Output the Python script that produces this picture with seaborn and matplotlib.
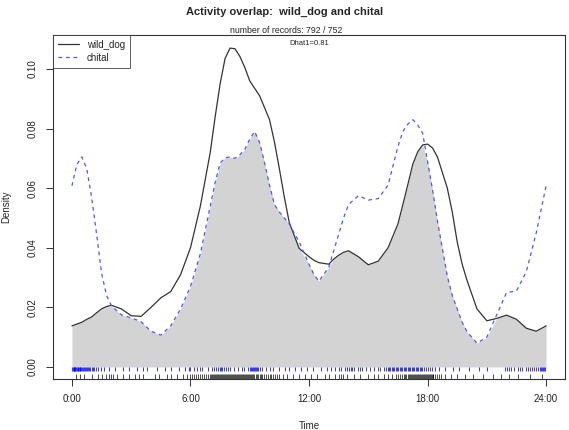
import numpy as np
import pandas as pd
import matplotlib
matplotlib.use("Agg")
import matplotlib.pyplot as plt
import seaborn as sns

# === DATA ===
hours = [0.0, 0.25, 0.5, 0.75, 1.0, 1.25, 1.5, 1.75, 2.0, 2.5, 3.0, 3.5, 4.0, 4.5,
         5.0, 5.5, 6.0, 6.5, 7.0, 7.25, 7.5, 7.75, 8.0, 8.25, 8.5, 8.75, 9.0, 9.25,
         9.5, 9.75, 10.0, 10.25, 10.5, 10.75, 11.0, 11.5, 12.0, 12.25, 12.5, 13.0,
         13.25, 13.5, 13.75, 14.0, 14.5, 15.0, 15.5, 16.0, 16.5, 16.75, 17.0, 17.25,
         17.5, 17.75, 18.0, 18.25, 18.5, 19.0, 19.25, 19.5, 19.75, 20.0, 20.5, 21.0,
         21.5, 22.0, 22.5, 23.0, 23.5, 24.0]

wild_dog = [0.0138, 0.0144, 0.0150, 0.0160, 0.0168, 0.0182, 0.0195, 0.0203, 0.0207,
            0.0195, 0.0172, 0.0170, 0.0200, 0.0232, 0.0253, 0.0310, 0.0400, 0.0540,
            0.0720, 0.0840, 0.0950, 0.1035, 0.1070, 0.1068, 0.1042, 0.1005, 0.0960,
            0.0935, 0.0910, 0.0870, 0.0830, 0.0755, 0.0665, 0.0570, 0.0485, 0.0398,
            0.0370, 0.0358, 0.0350, 0.0345, 0.0362, 0.0375, 0.0385, 0.0390, 0.0370,
            0.0343, 0.0355, 0.0400, 0.0480, 0.0545, 0.0612, 0.0680, 0.0722, 0.0745,
            0.0748, 0.0735, 0.0705, 0.0600, 0.0520, 0.0420, 0.0345, 0.0290, 0.0195,
            0.0155, 0.0163, 0.0174, 0.0160, 0.0130, 0.0120, 0.0138]

chital = [0.0608, 0.0680, 0.0705, 0.0665, 0.0568, 0.0445, 0.0315, 0.0240, 0.0205,
          0.0175, 0.0165, 0.0152, 0.0120, 0.0107, 0.0138, 0.0195, 0.0270, 0.0380,
          0.0540, 0.0620, 0.0684, 0.0702, 0.0705, 0.0700, 0.0712, 0.0730, 0.0765,
          0.0790, 0.0753, 0.0685, 0.0610, 0.0545, 0.0520, 0.0500, 0.0480, 0.0420,
          0.0345, 0.0310, 0.0288, 0.0335, 0.0390, 0.0445, 0.0500, 0.0545, 0.0575,
          0.0560, 0.0565, 0.0610, 0.0740, 0.0790, 0.0815, 0.0830, 0.0812, 0.0785,
          0.0690, 0.0595, 0.0490, 0.0305, 0.0240, 0.0195, 0.0150, 0.0118, 0.0080,
          0.0100, 0.0175, 0.0250, 0.0255, 0.0320, 0.0450, 0.0608]

# event times for the rugs (approximate)
chital_times = [0.02, 0.05, 0.08, 0.1, 0.12, 0.15, 0.18, 0.2, 0.25, 0.3, 0.33, 0.35,
                0.4, 0.42, 0.45, 0.5, 0.55, 0.6, 0.65, 0.7, 0.75, 0.8, 0.85, 0.9, 1.0,
                1.05, 1.1, 1.2, 1.3, 1.45, 1.6, 1.9, 2.2, 2.6, 2.9, 3.3, 3.6, 3.8, 4.3,
                4.7, 5.0, 5.4, 5.7, 5.9, 6.0, 6.2, 6.35, 6.5, 6.6, 6.9, 7.1, 7.2, 7.3,
                7.4, 7.5, 7.55, 7.6, 7.7, 7.8, 7.9, 8.0, 8.2, 8.4, 8.6, 8.7, 8.9, 9.0,
                9.05, 9.1, 9.15, 9.2, 9.25, 9.3, 9.35, 9.4, 9.5, 9.6, 9.8, 10.0, 10.2,
                10.5, 10.8, 11.0, 11.3, 11.6, 11.9, 12.2, 12.6, 12.9, 13.1, 13.3, 13.5,
                13.6, 13.8, 13.9, 14.0, 14.1, 14.2, 14.3, 14.5, 14.6, 14.7, 14.9, 15.1,
                15.3, 15.5, 15.6, 15.8, 15.9, 16.0, 16.05, 16.1, 16.2, 16.25, 16.3,
                16.4, 16.45, 16.5, 16.6, 16.65, 16.7, 16.8, 16.85, 16.9, 17.0, 17.05,
                17.1, 17.2, 17.25, 17.3, 17.4, 17.45, 17.5, 17.6, 17.65, 17.7, 17.8,
                17.9, 18.0, 18.1, 18.2, 18.4, 18.6, 18.9, 19.3, 19.6, 20.1, 20.6, 21.0,
                21.9, 22.0, 22.1, 22.2, 22.4, 22.6, 22.7, 22.8, 23.0, 23.1, 23.2, 23.3,
                23.4, 23.5, 23.6, 23.7, 23.75, 23.8, 23.85, 23.9, 23.95]

wild_dog_times = [0.2, 0.4, 0.6, 1.0, 1.3, 1.5, 1.7, 1.9, 2.0, 2.1, 2.3, 2.6, 2.9,
                  3.2, 3.4, 3.6, 4.2, 4.4, 4.8, 5.0, 5.3, 5.6, 5.8, 6.0, 6.1, 6.2, 6.3,
                  6.4, 6.5, 6.6, 6.7, 6.8, 6.9, 7.0, 7.05, 7.1, 7.15, 7.2, 7.25, 7.3,
                  7.35, 7.4, 7.45, 7.5, 7.55, 7.6, 7.65, 7.7, 7.75, 7.8, 7.85, 7.9,
                  7.95, 8.0, 8.05, 8.1, 8.15, 8.2, 8.25, 8.3, 8.35, 8.4, 8.45, 8.5,
                  8.55, 8.6, 8.65, 8.7, 8.75, 8.8, 8.85, 8.9, 8.95, 9.0, 9.05, 9.1,
                  9.15, 9.2, 9.3, 9.35, 9.4, 9.5, 9.55, 9.6, 9.7, 9.8, 9.9, 10.0, 10.1,
                  10.2, 10.3, 10.4, 10.5, 10.7, 10.9, 11.2, 11.5, 11.8, 12.1, 12.4,
                  12.8, 13.0, 13.3, 13.5, 13.6, 13.7, 13.9, 14.3, 14.6, 15.0, 15.3,
                  15.5, 15.8, 16.0, 16.2, 16.4, 16.5, 16.6, 16.7, 16.8, 16.85, 16.9,
                  17.0, 17.05, 17.1, 17.15, 17.2, 17.25, 17.3, 17.35, 17.4, 17.45,
                  17.5, 17.55, 17.6, 17.65, 17.7, 17.75, 17.8, 17.85, 17.9, 17.95,
                  18.0, 18.05, 18.1, 18.15, 18.2, 18.25, 18.3, 18.4, 18.5, 18.6, 18.7,
                  18.9, 19.2, 19.5, 19.9, 20.3, 20.8, 21.3, 21.7, 22.1, 22.6, 23.2,
                  23.8]

xticks = [0, 6, 12, 18, 24]
xtick_labels = ["0:00", "6:00", "12:00", "18:00", "24:00"]
yticks = [0.00, 0.02, 0.04, 0.06, 0.08, 0.10]

# === STYLE ===
sns.set_style("ticks")
plt.rcParams["font.family"] = ["Liberation Sans", "DejaVu Sans"]

df = pd.DataFrame({"Time": hours, "wild_dog": wild_dog, "chital": chital})

fig = plt.figure(figsize=(5.69, 4.30), dpi=100)
ax = fig.add_axes([0.0931, 0.1186, 0.9, 0.8])

# overlap area
ax.fill_between(df["Time"], 0, np.minimum(df["wild_dog"], df["chital"]),
                color="#d3d3d3", lw=0)

sns.lineplot(data=df, x="Time", y="wild_dog", ax=ax, color="#333333", lw=0.9,
             label="wild_dog", sort=False)
sns.lineplot(data=df, x="Time", y="chital", ax=ax, color="#5555ff", lw=0.9,
             label="chital", sort=False)
ax.lines[1].set_dashes([3, 3])

# rugs
ax.vlines(chital_times, -0.0013, 0.0, color="blue", lw=0.7, alpha=0.8)
ax.vlines(wild_dog_times, -0.0040, -0.0023, color="black", lw=0.7, alpha=0.7)

ax.set_xlim(-0.96, 24.96)
ax.set_ylim(-0.00403, 0.1114)
ax.set_xticks(xticks)
ax.set_xticklabels(xtick_labels)
ax.set_yticks(yticks)
ax.set_yticklabels(["%.2f" % v for v in yticks], rotation=90, va="center")
ax.tick_params(axis="both", labelsize=7, length=5, width=0.7, color="#333333",
               pad=6, labelcolor="#222222")

for s in ax.spines.values():
    s.set_color("#333333")
    s.set_linewidth(0.8)

ax.set_xlabel("Time", fontsize=7, labelpad=12)
ax.set_ylabel("Density", fontsize=7, labelpad=12)

leg = ax.legend(loc="upper left", fontsize=7, frameon=True, fancybox=False,
                borderaxespad=0, handlelength=2.2, labelspacing=0.3,
                borderpad=0.5, edgecolor="#333333")
leg.get_frame().set_linewidth(0.7)

fig.text(0.5, 0.972, "Activity overlap:  wild_dog and chital", ha="center",
         va="center", fontsize=8, fontweight="bold")
fig.text(0.503, 0.930, "number of records: 792 / 752", ha="center", va="center",
         fontsize=6.3)
ax.text(12.0, 0.1085, "Dhat1=0.81", ha="center", va="center", fontsize=5.5)

fig.savefig("out.png", dpi=100)
